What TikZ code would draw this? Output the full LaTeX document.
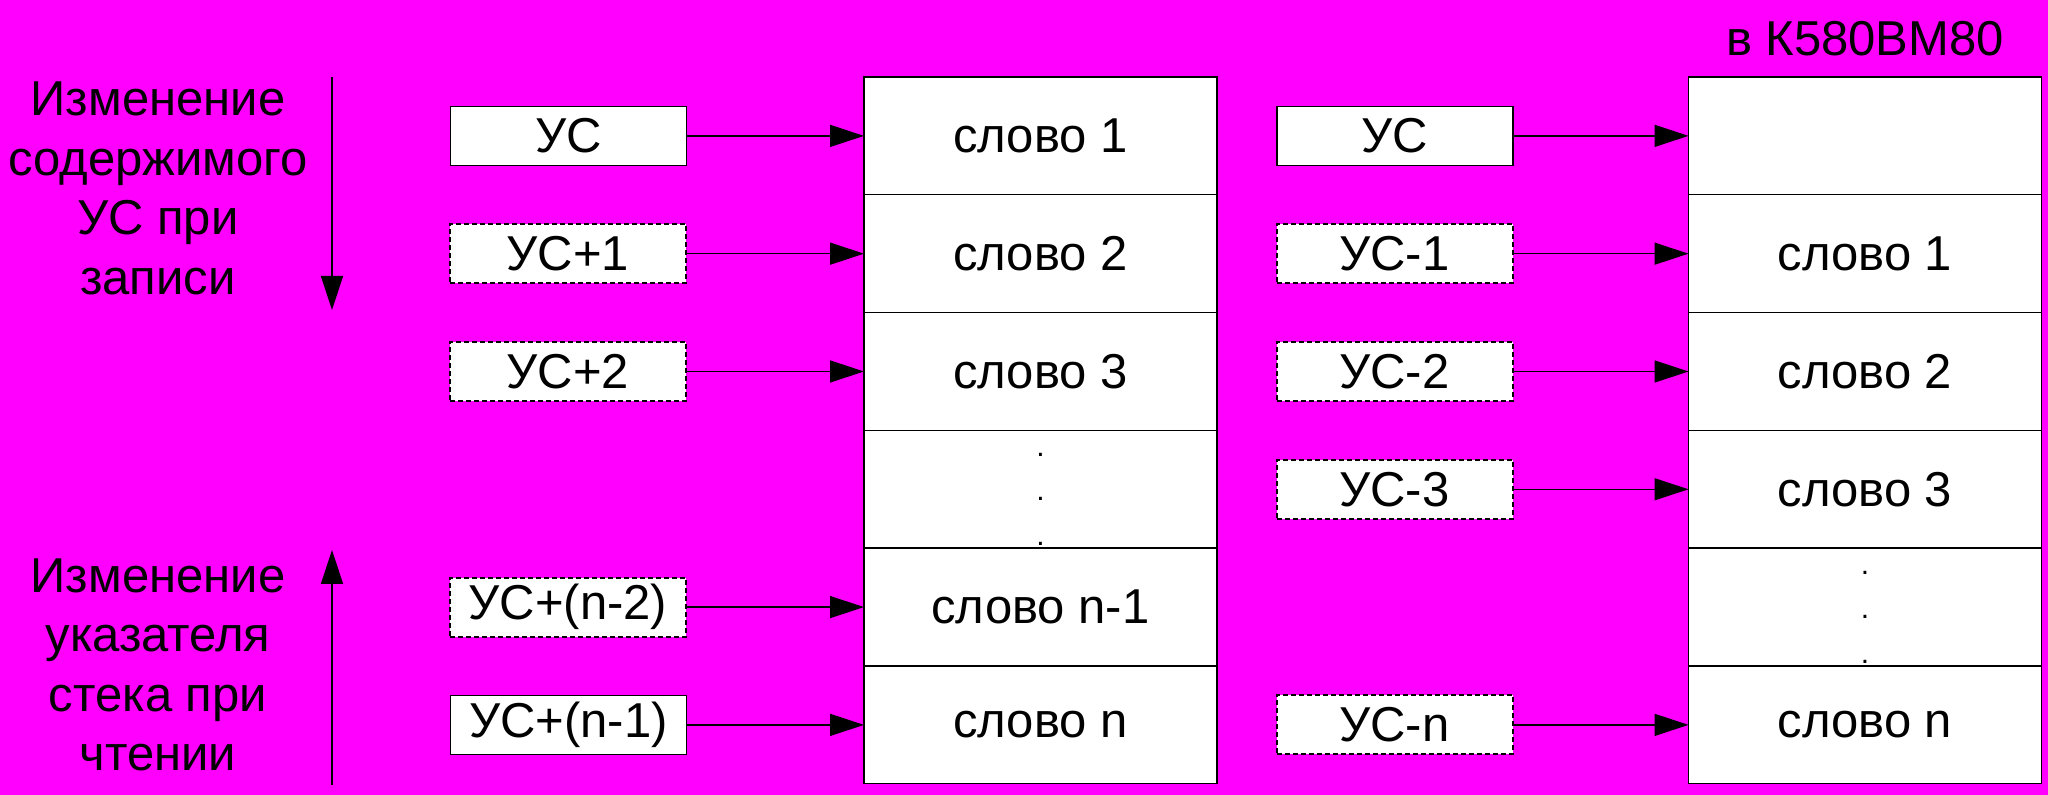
\documentclass[tikz,border=0pt]{standalone}
\usepackage{fontspec}
\setmainfont{Liberation Sans}
\usetikzlibrary{positioning,arrows.meta}
\definecolor{bgmag}{RGB}{255,0,255}

\begin{document}
\begin{tikzpicture}[x=0.5pt,y=0.5pt,
    cell/.style={draw, fill=white, line width=0.7pt, minimum width=176.5pt, minimum height=58.9pt,
      inner sep=0pt, outer sep=0pt, font=\fontsize{24.5}{29.7}\selectfont},
    ptr/.style={draw, fill=white, line width=0.7pt, minimum width=118pt, minimum height=29.5pt,
      inner sep=0pt, font=\fontsize{24.5}{29.7}\selectfont},
    dptr/.style={ptr, line width=1pt, dash pattern=on 2.5pt off 1.5pt},
    side/.style={align=center, font=\fontsize{24.5}{29.7}\selectfont},
    vdots/.style={align=center, font=\fontsize{15}{22.25}\selectfont, yshift=-5pt},
    ar/.style={-{Triangle[length=17pt,width=11pt]}, line width=0.7pt}]
      \fill[bgmag] (0,0) rectangle (2048,795);
      % left stack
      \node[cell] (l1) at (1040.5,659.1) {слово 1};
      \node[cell, below=0pt of l1] (l2) {слово 2};
      \node[cell, below=0pt of l2] (l3) {слово 3};
      \node[cell, below=0pt of l3] (l4) {};
      \node[cell, below=0pt of l4] (l5) {слово n-1};
      \node[cell, below=0pt of l5] (l6) {слово n};
      \node[vdots] at (l4) {.\\.\\.};
      \node[ptr, left=88.5pt of l1] (p1) {УС};
      \node[dptr, left=88.5pt of l2] (p2) {УС+1};
      \node[dptr, left=88.5pt of l3] (p3) {УС+2};
      \node[dptr, left=88.5pt of l5] (p5) {УС+(n-2)};
      \node[ptr, left=88.5pt of l6] (p6) {УС+(n-1)};
      \draw[ar] (p1) -- (l1);
      \draw[ar] (p2) -- (l2);
      \draw[ar] (p3) -- (l3);
      \draw[ar] (p5) -- (l5);
      \draw[ar] (p6) -- (l6);
      % right stack
      \node (title) at (1865,756.5) {\fontsize{24.5}{29.7}\selectfont в К580ВМ80};
      \node[cell] (r1) at (1865,659.1) {};
      \node[cell, below=0pt of r1] (r2) {слово 1};
      \node[cell, below=0pt of r2] (r3) {слово 2};
      \node[cell, below=0pt of r3] (r4) {слово 3};
      \node[cell, below=0pt of r4] (r5) {};
      \node[cell, below=0pt of r5] (r6) {слово n};
      \node[vdots] at (r5) {.\\.\\.};
      \node[ptr, left=87.5pt of r1] (q1) {УС};
      \node[dptr, left=87.5pt of r2] (q2) {УС-1};
      \node[dptr, left=87.5pt of r3] (q3) {УС-2};
      \node[dptr, left=87.5pt of r4] (q4) {УС-3};
      \node[dptr, left=87.5pt of r6] (q6) {УС-n};
      \draw[ar] (q1) -- (r1);
      \draw[ar] (q2) -- (r2);
      \draw[ar] (q3) -- (r3);
      \draw[ar] (q4) -- (r4);
      \draw[ar] (q6) -- (r6);
      % direction notes
      \node[side] (wr) at (158,606.5) {Изменение\\содержимого\\УС при\\записи};
      \node[side] (rd) at (158,130) {Изменение\\указателя\\стека при\\чтении};
      \coordinate (wtop) at (332,718);
      \coordinate (wbot) at (332,485);
      \coordinate (rbot) at (332,10);
      \coordinate (rtop) at (332,245);
      \draw[ar] (wtop) -- (wbot);
      \draw[ar] (rbot) -- (rtop);
\end{tikzpicture}
\end{document}
